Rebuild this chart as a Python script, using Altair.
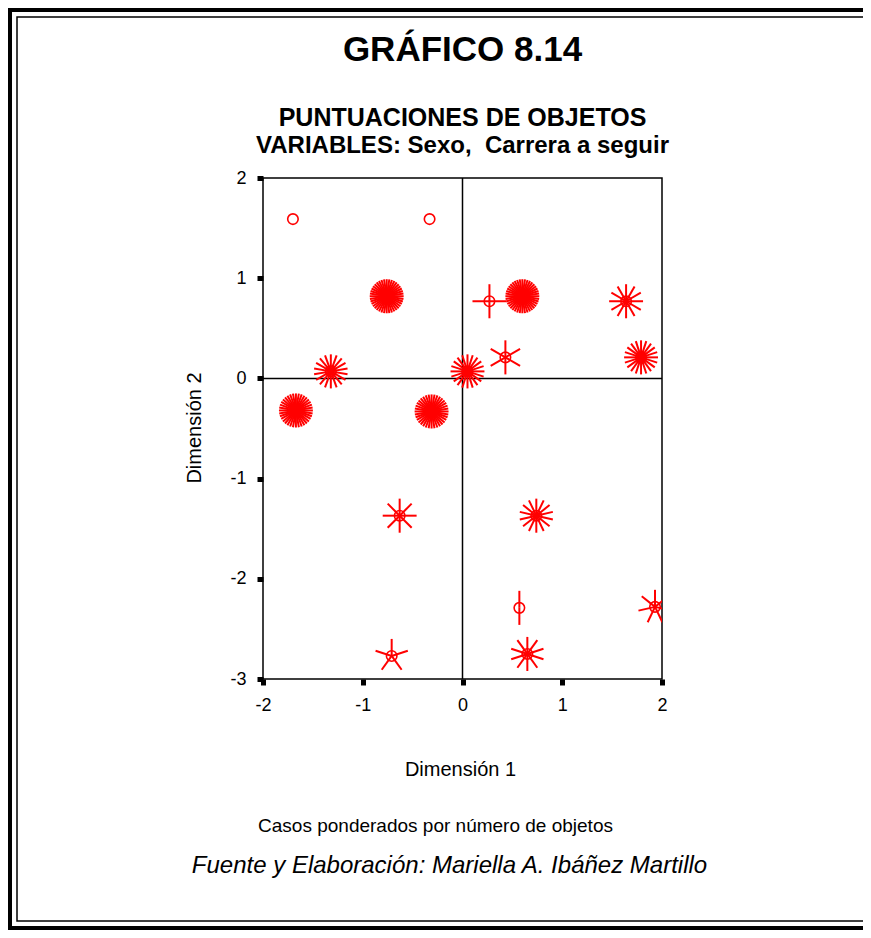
import altair as alt
import pandas as pd
import numpy as np

# ---- data ----
dim1 = [-1.70, -0.33, -0.76, 0.27, 0.60, 1.64, 0.43, 1.79, -1.32, 0.05,
        -1.67, -0.31, -0.63, 0.74, 0.57, 1.93, -0.71, 0.65]
dim2 = [1.59, 1.59, 0.82, 0.77, 0.82, 0.77, 0.21, 0.21, 0.07, 0.07,
        -0.32, -0.33, -1.37, -1.37, -2.29, -2.28, -2.77, -2.75]
counts = [1, 1, 40, 4, 40, 12, 6, 20, 18, 20, 36, 36, 8, 14, 2, 7, 5, 10]

x_ticks = [-2, -1, 0, 1, 2]
y_ticks = [-3, -2, -1, 0, 1, 2]

title_main = "GRÁFICO 8.14"
title_sub1 = "PUNTUACIONES DE OBJETOS"
title_sub2 = "VARIABLES: Sexo,\u00a0 Carrera a seguir"
x_title = "Dimensión 1"
y_title = "Dimensión 2"
note = "Casos ponderados por número de objetos"
source = "Fuente y Elaboración: Mariella A. Ibáñez Martillo"

# ---- derived tables ----
PETAL = 0.17  # petal length in data units (style)
pts = pd.DataFrame({"d1": dim1, "d2": dim2, "n": counts})
rows = []
for x, y, n in zip(dim1, dim2, counts):
    if n < 2:
        continue
    for k in range(n):
        a = np.pi / 2 + 2 * np.pi * k / n
        rows.append({"d1": x, "d2": y,
                     "e1": x + PETAL * np.cos(a), "e2": y + PETAL * np.sin(a)})
petals = pd.DataFrame(rows)

RED = "#ff0000"
FONT = "Liberation Sans"
W, H = 399, 501

xs = alt.Scale(domain=[-2, 2], nice=False, zero=False)
ys = alt.Scale(domain=[-3, 2], nice=False, zero=False)
ax_common = dict(title=None, grid=False, domain=False, ticks=True, tickSize=6,
                 tickWidth=5, tickColor="black", labelFont=FONT, labelFontSize=18,
                 labelColor="black", labelFlush=False,
                 labelOverlap=False, labelExpr="toString(datum.value)")
xaxis = alt.Axis(values=x_ticks, labelPadding=11, **ax_common)
yaxis = alt.Axis(values=y_ticks, labelPadding=11, **ax_common)

one = pd.DataFrame({"k": [0]})

outer = alt.Chart(one).mark_rect(fill="transparent", stroke="black", strokeWidth=4).encode(
    x=alt.value(-253), x2=alt.value(640), y=alt.value(-168), y2=alt.value(750))
inner = alt.Chart(one).mark_rect(fill="transparent", stroke="black", strokeWidth=1.5).encode(
    x=alt.value(-246), x2=alt.value(640), y=alt.value(-161), y2=alt.value(743))

zero_v = alt.Chart(one).mark_rule(color="black", strokeWidth=1.5).encode(
    x=alt.datum(0, scale=xs, axis=xaxis))
zero_h = alt.Chart(one).mark_rule(color="black", strokeWidth=1.5).encode(
    y=alt.datum(0, scale=ys, axis=yaxis))

petal_layer = alt.Chart(petals).mark_rule(color=RED, strokeWidth=2, clip=True).encode(
    x=alt.X("d1:Q", scale=xs, axis=xaxis),
    y=alt.Y("d2:Q", scale=ys, axis=yaxis),
    x2="e1:Q", y2="e2:Q")

circle_layer = alt.Chart(pts).mark_point(shape="circle", filled=False, color=RED,
                                         size=110, strokeWidth=1.6, opacity=1,
                                         clip=True).encode(
    x=alt.X("d1:Q", scale=xs, axis=xaxis),
    y=alt.Y("d2:Q", scale=ys, axis=yaxis))


def txt(s, xpos, ypos, size, weight="normal", style="normal", angle=0):
    return alt.Chart(pd.DataFrame({"t": [s]})).mark_text(
        font=FONT, fontSize=size, fontWeight=weight, fontStyle=style,
        color="black", align="center", baseline="middle", angle=angle).encode(
        text="t:N", x=alt.value(xpos), y=alt.value(ypos))


cx = W / 2
texts = [
    txt(title_main, cx, -128, 35, weight="bold"),
    txt(title_sub1, cx, -60, 25, weight="bold"),
    txt(title_sub2, cx, -32, 24, weight="bold"),
    txt(x_title, cx - 2, 592, 20),
    txt(y_title, -68, 250, 20, angle=270),
    txt(note, cx - 27, 648, 19),
    txt(source, cx - 13, 688, 24, style="italic"),
]

chart = alt.layer(outer, inner, zero_v, zero_h, petal_layer, circle_layer, *texts).properties(
    width=W, height=H,
    autosize=alt.AutoSizeParams(type="none"),
    padding={"left": 255, "top": 170, "right": 201, "bottom": 251},
    background="white",
).configure_view(stroke="black", strokeWidth=1.5)

chart.save("out.html", embed_options={"renderer": "svg", "actions": False})
